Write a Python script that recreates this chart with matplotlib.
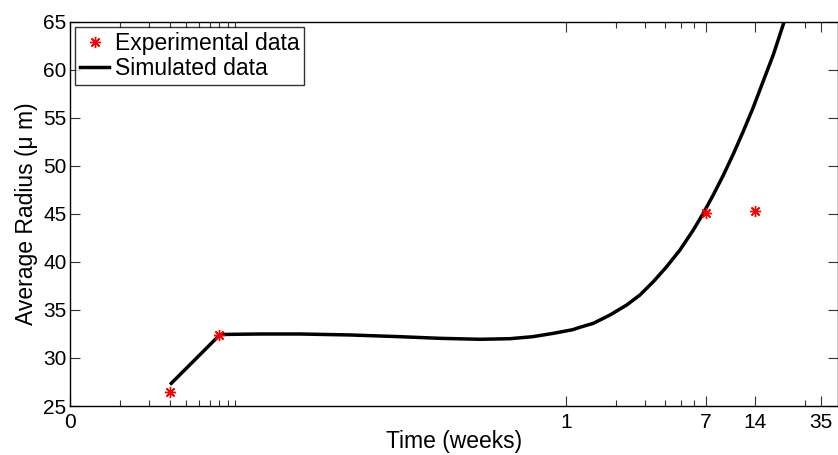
import matplotlib
matplotlib.use("Agg")
import matplotlib.pyplot as plt
from matplotlib.ticker import FixedLocator, FixedFormatter, NullFormatter

plt.rcParams['font.family'] = ['Liberation Sans', 'DejaVu Sans']

# Experimental data
exp_x = [0.004, 0.008, 7, 14]
exp_y = [26.5, 32.4, 45.1, 45.35]

# Simulated data
sim_x = [0.0041, 0.0081, 0.0141, 0.0246, 0.0494, 0.0991, 0.173, 0.302, 0.458,
         0.63, 0.84, 1.10, 1.217, 1.465, 1.849, 2.333, 2.806, 3.381, 4.07,
         4.90, 5.90, 6.78, 7.79, 8.96, 10.3, 11.83, 13.6, 15.6, 18.0,
         20.8, 21.5]
sim_y = [27.36, 32.45, 32.5, 32.5, 32.4, 32.22, 32.05, 31.95, 32.01,
         32.22, 32.57, 32.95, 33.2, 33.61, 34.48, 35.52, 36.56, 37.95, 39.51,
         41.25, 43.33, 45.07, 46.98, 49.03, 51.24, 53.6, 56.1, 58.8, 61.6,
         64.9, 65.8]

major_ticks = [0.001, 1, 7, 14, 35]
major_labels = ['0', '1', '7', '14', '35']
minor_ticks = [0.002, 0.003, 0.004, 0.005, 0.006, 0.007, 0.008, 0.009, 0.01,
               2, 3, 4, 5, 6, 28]
y_ticks = [25, 30, 35, 40, 45, 50, 55, 60, 65]

FS = 15
LFS = 16.5

fig = plt.figure(figsize=(8.38, 4.55), dpi=100)
ax = fig.add_axes([70/838, 49/455, 768/838, 384/455])

ax.plot(sim_x, sim_y, color='black', lw=2.5, label='Simulated data', zorder=2,
        solid_joinstyle='round')
ax.plot(exp_x, exp_y, linestyle='none', marker=(8, 2, 0), markersize=8,
        markeredgewidth=1.0, color='red', markeredgecolor='red',
        label='Experimental data', zorder=3)

ax.set_xscale('log')
ax.set_xlim(0.001, 44.3)
ax.set_ylim(25, 65)

ax.xaxis.set_major_locator(FixedLocator(major_ticks))
ax.xaxis.set_major_formatter(FixedFormatter(major_labels))
ax.xaxis.set_minor_locator(FixedLocator(minor_ticks))
ax.xaxis.set_minor_formatter(NullFormatter())
ax.set_yticks(y_ticks)

ax.tick_params(axis='both', which='both', direction='in', top=True, right=True,
               labelsize=FS, width=0.8, color='#333333')
ax.tick_params(axis='both', which='major', length=7)
ax.tick_params(axis='both', which='minor', length=4)
ax.tick_params(axis='x', pad=5)
ax.tick_params(axis='y', pad=2.5)

for s in ax.spines.values():
    s.set_linewidth(1.0)

ax.set_xlabel('Time (weeks)', fontsize=LFS, labelpad=-1.5)
ax.set_ylabel('Average Radius (μ m)', fontsize=LFS, labelpad=4)

handles, labels = ax.get_legend_handles_labels()
leg = ax.legend(handles[::-1], labels[::-1], loc='upper left', fontsize=LFS,
                frameon=True, fancybox=False, borderaxespad=0.22,
                handlelength=1.3, handletextpad=0.25, borderpad=0.2,
                labelspacing=0.1)
leg.get_frame().set_edgecolor('black')
leg.get_frame().set_linewidth(1.0)

fig.savefig('out.png', dpi=100)
